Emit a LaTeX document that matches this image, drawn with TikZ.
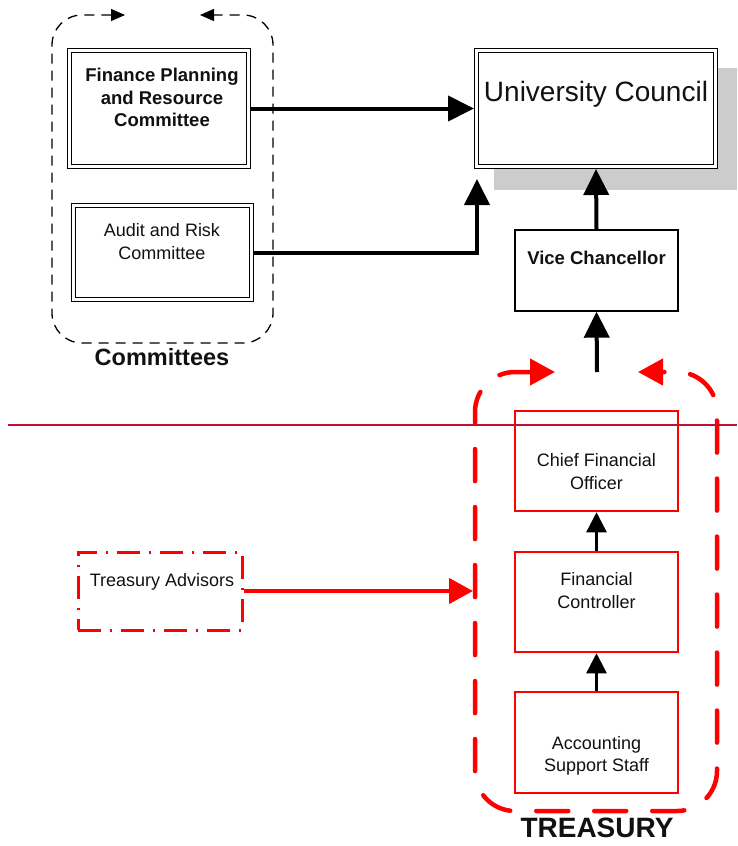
\documentclass[tikz,border=0pt]{standalone}
\usepackage{fontspec}
\setmainfont{Liberation Sans}
\usetikzlibrary{arrows.meta}
\definecolor{tred}{RGB}{255,0,0}
\definecolor{divline}{RGB}{192,16,60}
\definecolor{shadowgray}{RGB}{204,204,204}
\definecolor{ink}{RGB}{17,17,17}
\begin{document}
\begin{tikzpicture}[x=1pt,y=-1pt,
  dbox/.style={draw=black, double=white, double distance=2.6pt, line width=1.2pt, inner sep=0pt, outer sep=2.5pt, fill=white},
  sbox/.style={draw=black, line width=1.3pt, inner sep=0pt, outer sep=0.65pt, fill=white},
  rbox/.style={draw=tred, line width=2.5pt, inner sep=0pt, outer sep=1.25pt, fill=white, minimum width=163pt},
  txt/.style={inner sep=0pt, align=center, text=ink, font=\fontsize{18}{22.5}\selectfont},
  btxt/.style={inner sep=0pt, align=center, text=ink, font=\fontsize{18.5}{22.5}\selectfont\bfseries},
  bigarrow/.style={draw=black, line width=4pt, -{Triangle[length=26pt,width=25pt]}},
  smallarrow/.style={draw=black, line width=2.5pt, -{Triangle[length=20pt,width=20pt]}},
  redarrow/.style={draw=tred, line width=4.5pt, -{Triangle[length=24pt,width=25pt]}},
  loopline/.style={draw=black, line width=1.3pt, dash pattern=on 10pt off 7pt, rounded corners=30pt, {Triangle[length=14pt,width=12pt]}-{Triangle[length=14pt,width=12pt]}},
  redloop/.style={draw=tred, line width=4.5pt, dash pattern=on 32pt off 26pt, line cap=round, rounded corners=40pt, {Triangle[length=25pt,width=26pt]}-{Triangle[length=25pt,width=26pt]}}
]
\useasboundingbox (0,0) rectangle (737,846);

% committees loop
\coordinate (cl1) at (125,15);
\coordinate (cl2) at (200,15);
\draw[loopline] (cl1) -- (52,15) -- (52,343) -- (273,343) -- (273,15) -- (cl2);
\node[inner sep=0pt, text=ink, font=\fontsize{23.5}{28}\selectfont\bfseries] (comlab) at (162,357) {Committees};

% treasury loop
\coordinate (tl1) at (555,372);
\coordinate (tl2) at (638,372);
\draw[redloop] (tl1) -- (475,372) -- (475,811) -- (717,811) -- (717,372) -- (tl2);
\node[inner sep=0pt, text=ink, font=\fontsize{28}{32}\selectfont\bfseries] (trlab) at (597,828) {TREASURY};

% shadow of council
\fill[shadowgray] (494,68) rectangle (737,190);

% boxes
\node[dbox, minimum width=179pt, minimum height=116pt] (fin) at (159,108.5) {};
\node[dbox, minimum width=178pt, minimum height=94pt] (aud) at (162.5,252.5) {};
\node[dbox, minimum width=239pt, minimum height=116pt] (uc) at (596,108.5) {};
\node[sbox, minimum width=163pt, minimum height=81pt] (vc) at (596.5,270.5) {};
\node[rbox, minimum height=100pt] (cfo) at (596.5,461) {};
\node[rbox, minimum height=100pt] (fc) at (596.5,602) {};
\node[rbox, minimum height=101pt] (ass) at (596.5,742.5) {};
\node[draw=tred, line width=3pt, dash pattern=on 23pt off 9pt on 2pt off 9pt, inner sep=0pt, outer sep=1.5pt, minimum width=164pt, minimum height=78pt] (ta) at (160,591) {};

% divider line (drawn over the boxes)
\coordinate (divL) at (8,425);
\coordinate (divR) at (737,425);
\draw[divline, line width=2pt] (divL) -- (divR);

% texts
\node[btxt] (fint) at (162,97.5) {Finance Planning\\and Resource\\Committee};
\node[txt] (audt) at (162,241.5) {Audit and Risk\\Committee};
\node[inner sep=0pt, text=ink, font=\fontsize{28}{32}\selectfont] (uct) at (596,94) {University Council};
\node[btxt] (vct) at (596.5,258) {Vice Chancellor};
\node[txt] (cfot) at (596.5,471.5) {Chief Financial\\Officer};
\node[txt] (fct) at (596.5,590.5) {Financial\\Controller};
\node[txt] (asst) at (596.5,756) {Accounting\\Support Staff};
\node[txt] (tat) at (162,582) {Treasury Advisors};

% connectors
\coordinate (ucin) at (477,179);
\coordinate (vcin) at (597,372);
\coordinate (tin) at (473,591);
\draw[bigarrow] (fin.east) -- (uc.west);
\draw[bigarrow] (aud.east) -| (ucin);
\draw[bigarrow] (vc.north) -- (uc.south);
\draw[bigarrow] (vcin) -- (vc.south);
\draw[smallarrow] (fc.north) -- (cfo.south);
\draw[smallarrow] (ass.north) -- (fc.south);
\draw[redarrow] (ta.east) -- (tin);
\end{tikzpicture}
\end{document}
